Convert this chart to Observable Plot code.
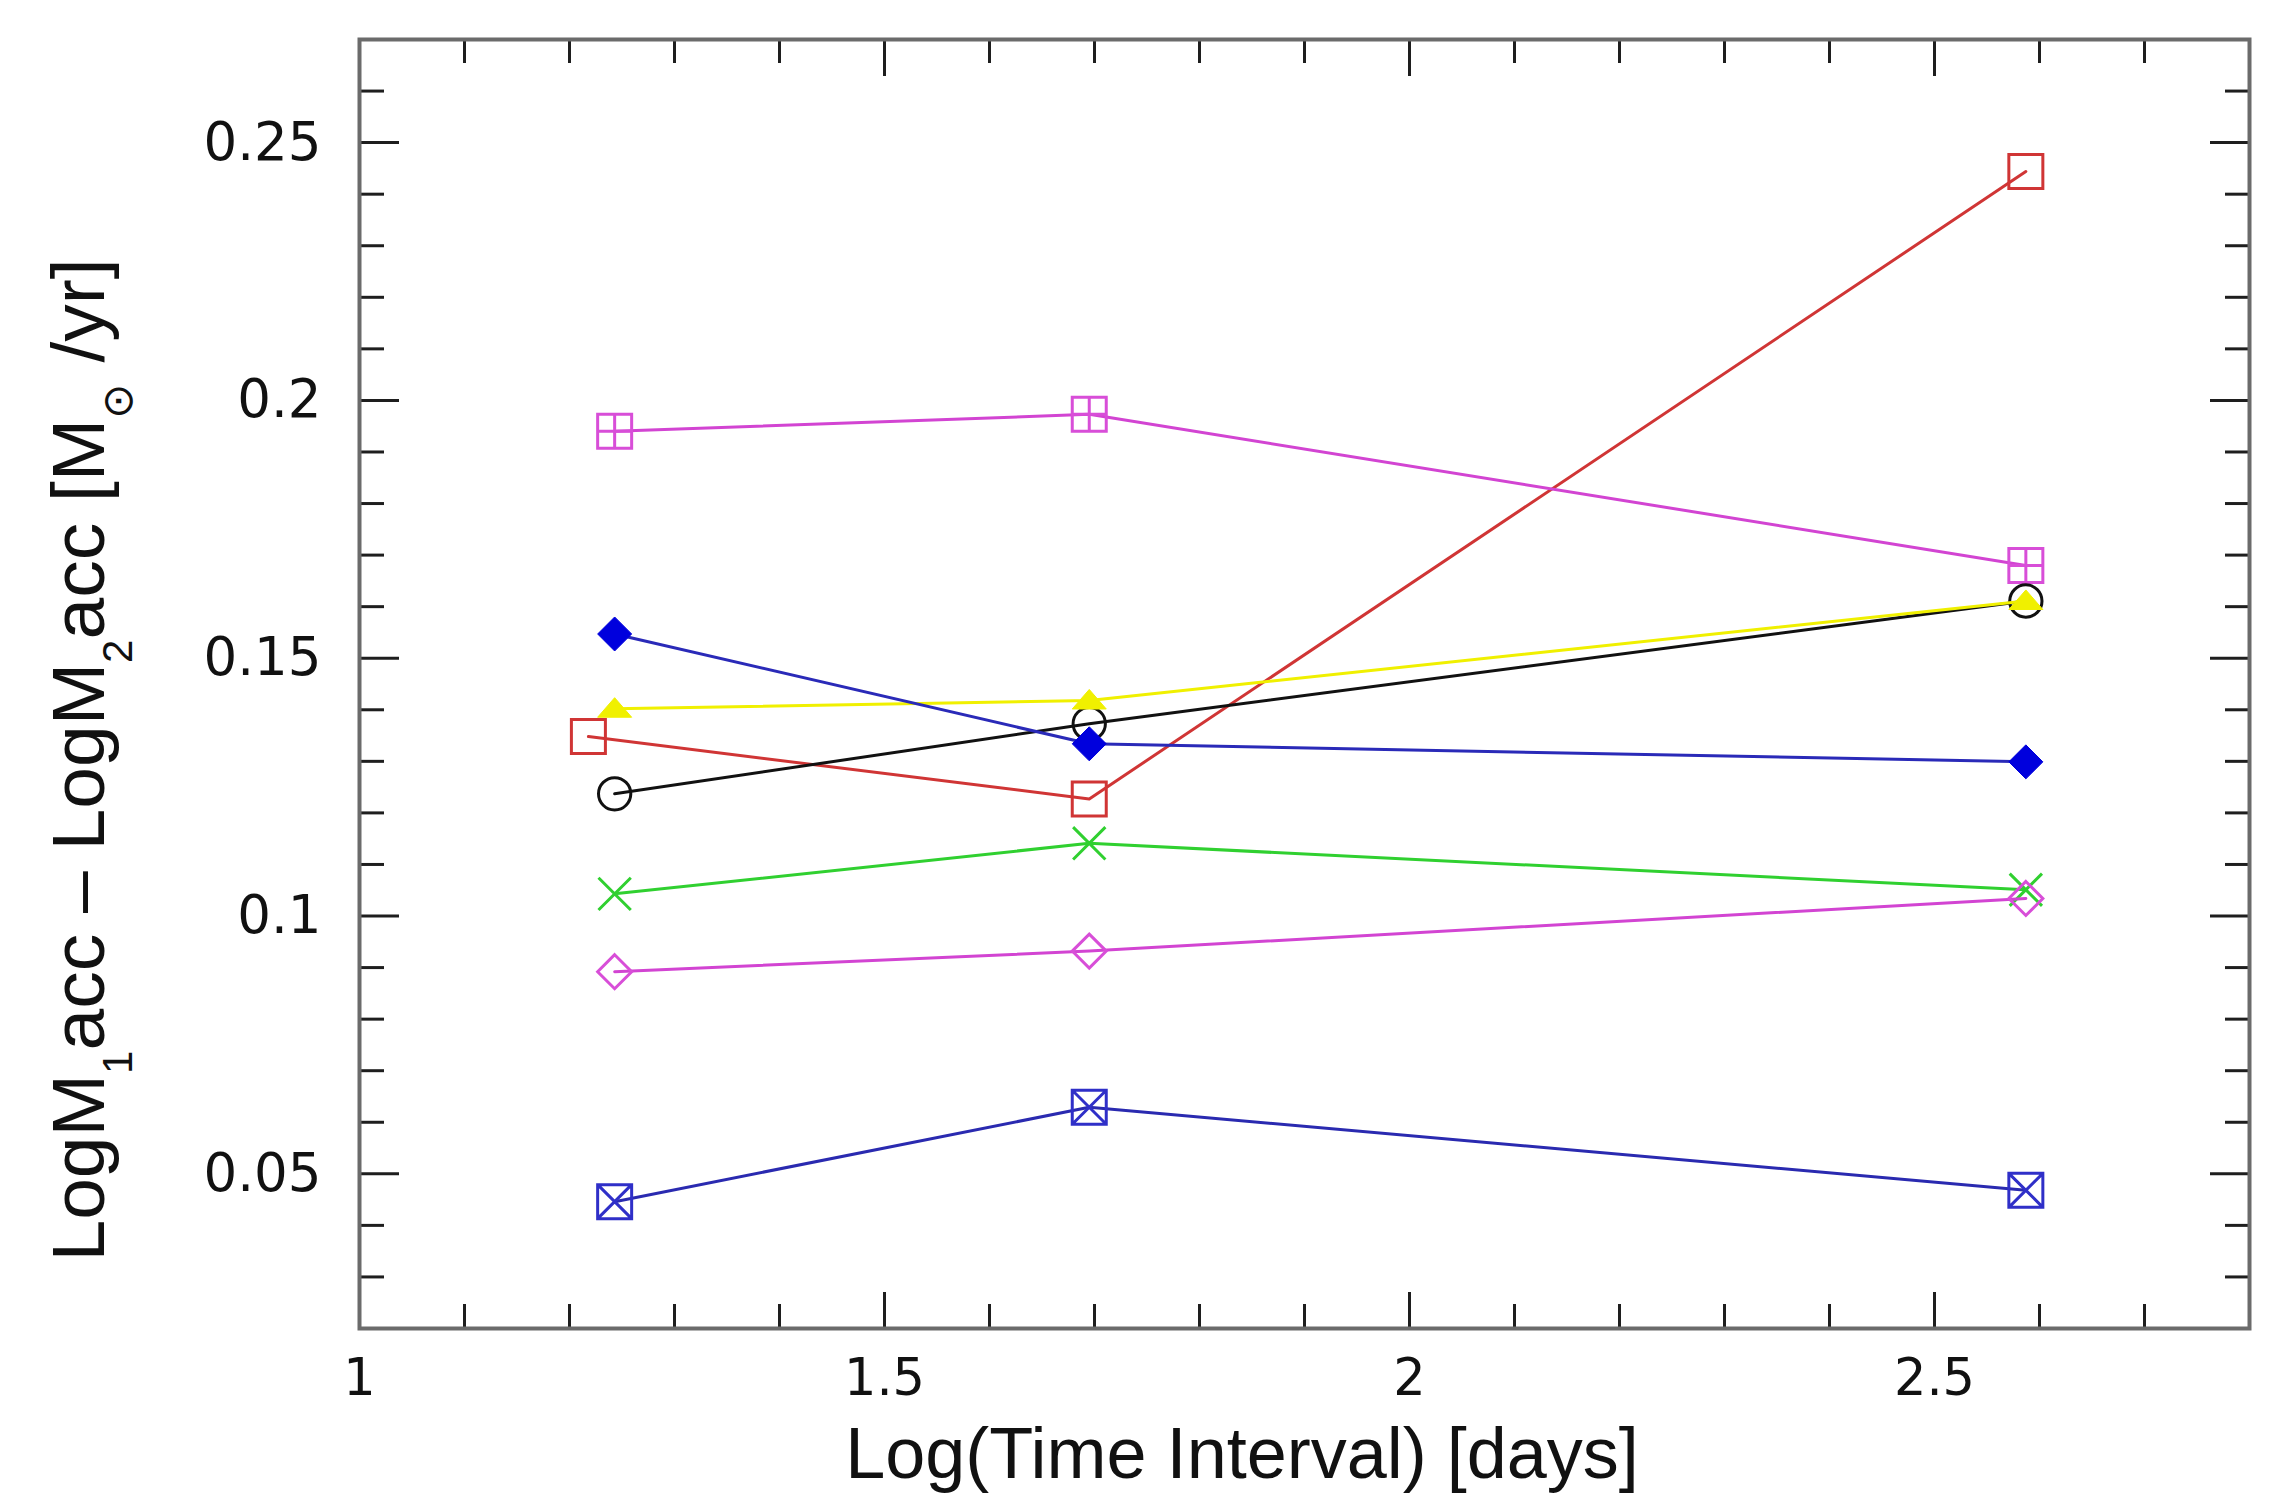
<!DOCTYPE html>
<html>
<head>
<meta charset="utf-8">
<script src="https://cdn.jsdelivr.net/npm/d3@7"></script>
<script src="https://cdn.jsdelivr.net/npm/@observablehq/plot@0.6"></script>
<style>
  html, body { margin: 0; padding: 0; background: #ffffff; }
  #chart svg { display: block; }
</style>
</head>
<body>
<div id="chart"></div>
<script>
// ---- Data ----
const xTime = [1.243, 1.695, 2.587];          // Log(Time Interval) [days]
const xRed = [1.218, 1.695, 2.587];           // red series (first point slightly offset)
const magentaSquarePlus = [0.1940, 0.1973, 0.1680];
const redSquare = [0.1348, 0.1227, 0.2444];
const blackCircle = [0.1237, 0.1373, 0.1611];
const yellowTriangle = [0.1402, 0.1418, 0.1611];
const blueDiamond = [0.1547, 0.1334, 0.1299];
const greenCross = [0.1043, 0.1141, 0.1051];
const magentaDiamond = [0.0892, 0.0932, 0.1034];
const blueSquareX = [0.0446, 0.0629, 0.0468];

const xMajorTicks = [1, 1.5, 2, 2.5];
const xMinorTicks = [1.1, 1.2, 1.3, 1.4, 1.6, 1.7, 1.8, 1.9, 2.1, 2.2, 2.3, 2.4, 2.6, 2.7];
const yMajorTicks = [0.05, 0.1, 0.15, 0.2, 0.25];
const yMinorTicks = [0.03, 0.04, 0.06, 0.07, 0.08, 0.09, 0.11, 0.12, 0.13, 0.14, 0.16, 0.17, 0.18, 0.19, 0.21, 0.22, 0.23, 0.24, 0.26];

// ---- Custom marker shapes ----
const rad = size => Math.sqrt(size / Math.PI);
const symSquare = { draw(c, s) { const r = rad(s); c.rect(-r, -r, 2 * r, 2 * r); } };
const symSquarePlus = { draw(c, s) { const r = rad(s); c.rect(-r, -r, 2 * r, 2 * r); c.moveTo(0, -r); c.lineTo(0, r); c.moveTo(-r, 0); c.lineTo(r, 0); } };
const symSquareX = { draw(c, s) { const r = rad(s); c.rect(-r, -r, 2 * r, 2 * r); c.moveTo(-r, -r); c.lineTo(r, r); c.moveTo(r, -r); c.lineTo(-r, r); } };
const symCircle = { draw(c, s) { const r = rad(s) * 0.95; c.moveTo(r, 0); c.arc(0, 0, r, 0, 2 * Math.PI); } };
const symDiamond = { draw(c, s) { const r = rad(s); c.moveTo(0, -r); c.lineTo(r, 0); c.lineTo(0, r); c.lineTo(-r, 0); c.closePath(); } };
const symCross = { draw(c, s) { const r = rad(s) * 0.95; c.moveTo(-r, -r); c.lineTo(r, r); c.moveTo(r, -r); c.lineTo(-r, r); } };
const symTriangle = { draw(c, s) { const r = rad(s); c.moveTo(-r, r * 0.5); c.lineTo(0, -r * 0.65); c.lineTo(r, r * 0.5); c.closePath(); } };

// ---- Series definitions (data + style) ----
const series = [
  { xs: xRed,  ys: redSquare,         line: "#d03535", mark: "#d03535", symbol: symSquare,     filled: false },
  { xs: xTime, ys: magentaSquarePlus, line: "#d244d2", mark: "#d84ed8", symbol: symSquarePlus, filled: false },
  { xs: xTime, ys: blackCircle,       line: "#111111", mark: "#111111", symbol: symCircle,     filled: false },
  { xs: xTime, ys: yellowTriangle,    line: "#f0f000", mark: "#f0f000", symbol: symTriangle,   filled: true  },
  { xs: xTime, ys: blueDiamond,       line: "#2a2ab8", mark: "#0000dd", symbol: symDiamond,    filled: true  },
  { xs: xTime, ys: greenCross,        line: "#30d030", mark: "#30d030", symbol: symCross,      filled: false },
  { xs: xTime, ys: magentaDiamond,    line: "#d244d2", mark: "#d84ed8", symbol: symDiamond,    filled: false },
  { xs: xTime, ys: blueSquareX,       line: "#2a2ab0", mark: "#2f2fc8", symbol: symSquareX,    filled: false }
];

const seriesMarks = series.flatMap(s => {
  const rows = s.xs.map((x, i) => ({ x, y: s.ys[i] }));
  return [
    Plot.line(rows, { x: "x", y: "y", stroke: s.line, strokeWidth: 3 }),
    Plot.dot(rows, {
      x: "x", y: "y", r: 17, symbol: s.symbol,
      stroke: s.mark, strokeWidth: s.filled ? 1 : 3,
      fill: s.filled ? s.mark : "none"
    })
  ];
});

const tickStyle = { stroke: "#1e1e1e", strokeWidth: 3, fill: "none", label: null };

const svg = Plot.plot({
  width: 2271,
  height: 1494,
  marginLeft: 359,
  marginRight: 22,
  marginTop: 39,
  marginBottom: 166,
  style: { background: "#ffffff", color: "#111111", fontFamily: "'DejaVu Sans', sans-serif", fontSize: "53px" },
  x: { domain: [1, 2.8] },
  y: { domain: [0.02, 0.27] },
  marks: [
    // tick labels
    Plot.axisX({ anchor: "bottom", ticks: xMajorTicks, tickSize: 0, tickPadding: 30, tickFormat: d => String(d), label: null, fontSize: 51 }),
    Plot.axisY({ anchor: "left", ticks: yMajorTicks, tickSize: 0, tickPadding: 38, tickFormat: d => String(d), label: null }),
    // inward ticks on all four sides
    Plot.axisX({ anchor: "bottom", ticks: xMajorTicks, tickSize: -36, ...tickStyle }),
    Plot.axisX({ anchor: "bottom", ticks: xMinorTicks, tickSize: -24, ...tickStyle }),
    Plot.axisX({ anchor: "top", ticks: xMajorTicks, tickSize: -36, ...tickStyle }),
    Plot.axisX({ anchor: "top", ticks: xMinorTicks, tickSize: -23, ...tickStyle }),
    Plot.axisY({ anchor: "left", ticks: yMajorTicks, tickSize: -40, ...tickStyle }),
    Plot.axisY({ anchor: "left", ticks: yMinorTicks, tickSize: -25, ...tickStyle }),
    Plot.axisY({ anchor: "right", ticks: yMajorTicks, tickSize: -40, ...tickStyle }),
    Plot.axisY({ anchor: "right", ticks: yMinorTicks, tickSize: -25, ...tickStyle }),
    ...seriesMarks,
    Plot.frame({ stroke: "#6b6b6b", strokeWidth: 4 })
  ]
});

const root = d3.select(svg);

// x-axis label
root.append("text")
  .attr("x", 1242)
  .attr("y", 1478)
  .attr("text-anchor", "middle")
  .style("font-family", "'Liberation Sans', Arial, sans-serif")
  .style("font-size", "72px")
  .style("fill", "#111111")
  .text("Log(Time Interval) [days]");

// y-axis label with subscripts
const yl = root.append("text")
  .attr("transform", "translate(104,760) rotate(-90)")
  .attr("text-anchor", "middle")
  .style("font-family", "'Liberation Sans', Arial, sans-serif")
  .style("font-size", "75px")
  .style("fill", "#111111")
  .style("white-space", "pre");
const parts = [
  ["LogM", false], ["1", true], ["acc \u2013 LogM", false], ["2", true],
  ["acc [M", false], ["\u2299", true], [" /yr]", false]
];
let shifted = false;
for (const [t, sub] of parts) {
  const ts = yl.append("tspan").text(t);
  if (sub) {
    ts.attr("dy", 28).style("font-size", "42px");
    if (t === "\u2299") ts.style("font-family", "'DejaVu Sans', sans-serif");
    shifted = true;
  } else if (shifted) {
    ts.attr("dy", -28);
    shifted = false;
  }
}

document.getElementById("chart").appendChild(svg);
</script>
</body>
</html>
